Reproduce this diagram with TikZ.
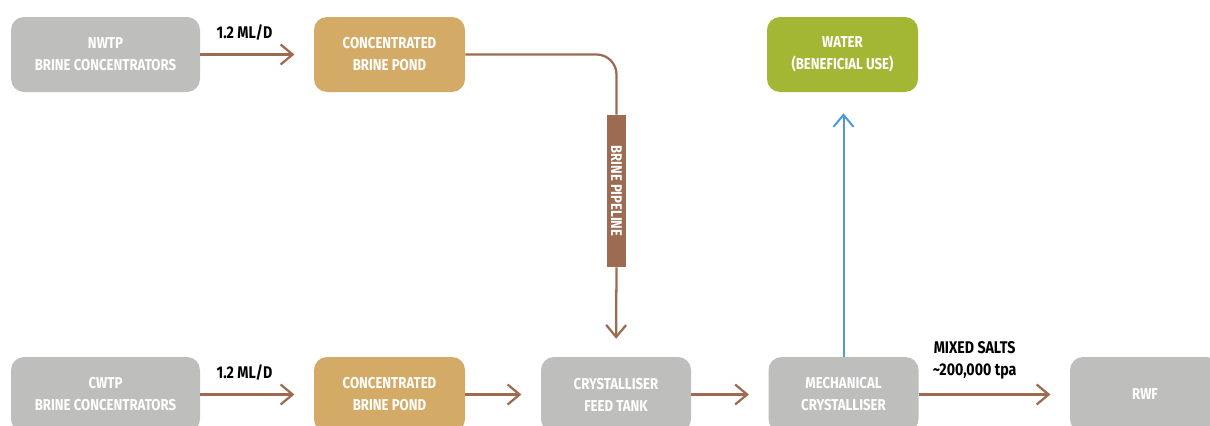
\documentclass[tikz,border=0pt]{standalone}
\usepackage{fontspec}
\setmainfont{Fira Sans}[FakeStretch=0.84]
\usepackage{xcolor}
\usepackage{tikz}
\usetikzlibrary{arrows.meta, positioning, calc}
\definecolor{boxgrey}{RGB}{190,190,189}
\definecolor{pondtan}{RGB}{211,170,102}
\definecolor{watergreen}{RGB}{163,183,52}
\definecolor{pipebrown}{RGB}{156,107,82}
\definecolor{flowblue}{RGB}{76,154,216}

\begin{document}
\begin{tikzpicture}[x=0.75pt, y=-0.75pt,
    unit/.style={rounded corners=9.75pt, text=white, align=center, inner sep=0pt,
        minimum height=56.25pt, font=\fontsize{11.8}{16.5}\selectfont\bfseries},
    plant/.style={unit, fill=boxgrey, minimum width=141.75pt},
    stage/.style={unit, fill=boxgrey, minimum width=112.5pt},
    pond/.style={unit, fill=pondtan, minimum width=113.25pt},
    outlet/.style={unit, fill=watergreen, minimum width=113.25pt},
    flowlabel/.style={align=center, inner sep=0pt, font=\fontsize{12.7}{16.5}\selectfont\bfseries},
    flow/.style={draw=pipebrown, line width=1.7pt, shorten >=14.5pt,
        -{Straight Barb[length=9pt, width=15pt]}}]
    \clip (0,0) rectangle (1210,425);
    % top row
    \node[plant] (nwtp) at (105.5,54.5) {NWTP\\BRINE CONCENTRATORS};
    \node[pond] (pondN) at (389.5,54.5) {CONCENTRATED\\BRINE POND};
    \node[outlet] (water) at (842.5,54.5) {WATER\\(BENEFICIAL USE)};
    % bottom row
    \node[plant] (cwtp) at (105.5,394.5) {CWTP\\BRINE CONCENTRATORS};
    \node[pond] (pondC) at (389.5,394.5) {CONCENTRATED\\BRINE POND};
    \node[stage] (feed) at (616,394.5) {CRYSTALLISER\\FEED TANK};
    \node[stage] (mech) at (843.5,394.5) {MECHANICAL\\CRYSTALLISER};
    \node[stage] (rwf) at (1145,394.5) {RWF};
    % pipeline
    \node[fill=pipebrown, text=white, rotate=-90, inner sep=0pt,
        minimum width=114pt, minimum height=14.25pt,
        font=\fontsize{11.6}{14}\selectfont\bfseries] (pipe) at (616.5,191) {BRINE PIPELINE};

    \draw[flow] (nwtp.east) -- node[flowlabel, pos=0.39, yshift=16.5pt] {1.2 ML/D} (pondN.west);
    \draw[flow] (cwtp.east) -- node[flowlabel, pos=0.39, yshift=16.5pt] {1.2 ML/D} (pondC.west);
    \draw[draw=pipebrown, line width=1.7pt, rounded corners=15pt] (pondN.east) -| (pipe.west);
    \draw[flow, shorten >=13.5pt] (pipe.east) -- (feed.north);
    \draw[flow] (pondC.east) -- (feed.west);
    \draw[flow] (feed.east) -- (mech.west);
    \draw[flow] (mech.east) -- node[flowlabel, pos=0.37, yshift=25.5pt] {MIXED SALTS\\\textasciitilde200,000 tpa} (rwf.west);
    \draw[draw=flowblue, line width=1.5pt, shorten >=15.75pt,
        -{Straight Barb[length=9pt, width=15pt]}] (mech.north) -- (mech.north |- water.south);
\end{tikzpicture}
\end{document}
